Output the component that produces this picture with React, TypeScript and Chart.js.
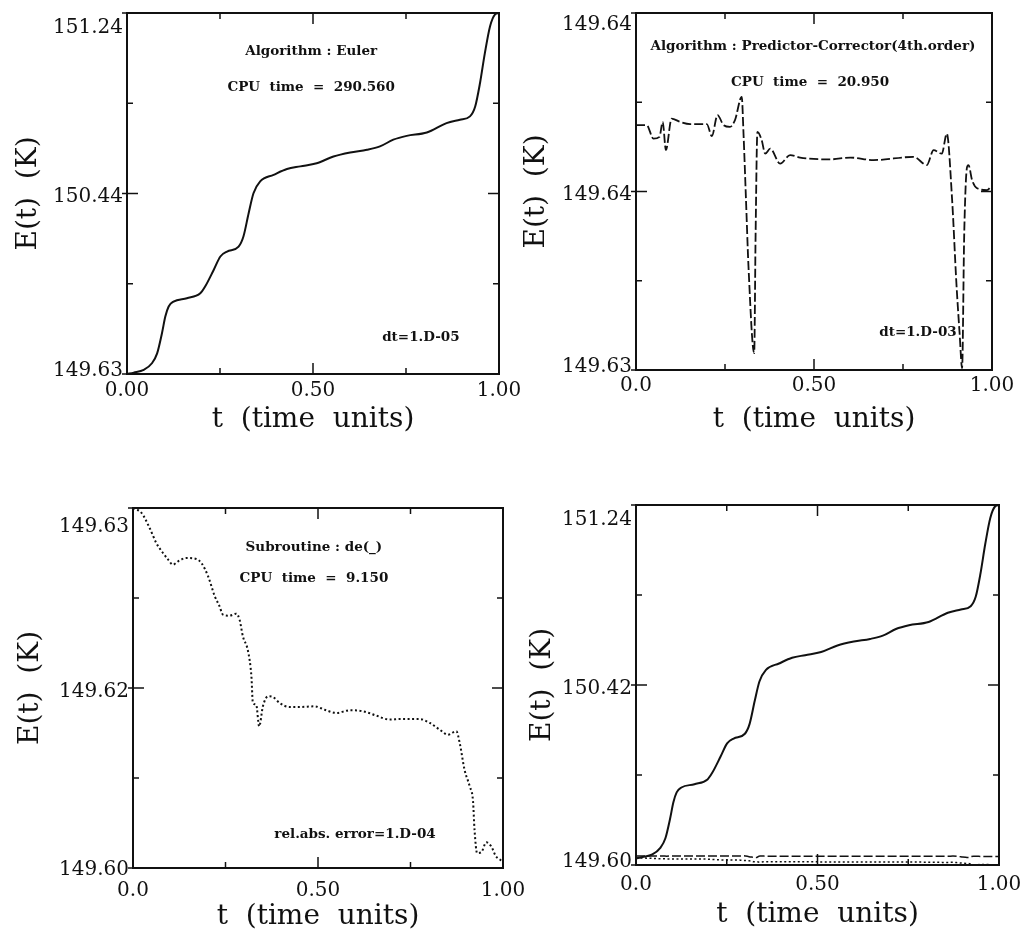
import React, { useEffect, useRef } from 'react';
import { Chart, registerables } from 'chart.js';

Chart.register(...registerables);

// ---------------- data ----------------
const eulerT = [0, 0.018, 0.045, 0.067, 0.081, 0.094, 0.103, 0.112, 0.125, 0.161, 0.197, 0.210, 0.233, 0.251, 0.269, 0.300, 0.313, 0.327, 0.340, 0.358, 0.394, 0.430, 0.466, 0.510, 0.555, 0.600, 0.645, 0.680, 0.716, 0.752, 0.806, 0.859, 0.895, 0.922, 0.936, 0.949, 0.962, 0.976, 0.989, 1.0];
const eulerE = [149.630, 149.636, 149.648, 149.678, 149.722, 149.812, 149.886, 149.931, 149.953, 149.968, 149.990, 150.020, 150.094, 150.154, 150.176, 150.198, 150.243, 150.347, 150.436, 150.489, 150.518, 150.544, 150.556, 150.570, 150.600, 150.618, 150.630, 150.645, 150.675, 150.692, 150.707, 150.749, 150.764, 150.779, 150.823, 150.928, 151.061, 151.181, 151.233, 151.240];

const pcT = [0, 0.030, 0.049, 0.066, 0.075, 0.084, 0.100, 0.124, 0.152, 0.199, 0.213, 0.229, 0.246, 0.264, 0.278, 0.297, 0.302, 0.309, 0.316, 0.332, 0.336, 0.341, 0.353, 0.363, 0.377, 0.405, 0.433, 0.461, 0.545, 0.602, 0.667, 0.780, 0.817, 0.836, 0.859, 0.873, 0.888, 0.900, 0.909, 0.916, 0.922, 0.930, 0.934, 0.944, 0.958, 0.986, 1.0];
const pcE = [149.64086, 149.64086, 149.64048, 149.64053, 149.64095, 149.64016, 149.64104, 149.64095, 149.64089, 149.64089, 149.64055, 149.64114, 149.64086, 149.64081, 149.64100, 149.64165, 149.64062, 149.63876, 149.63689, 149.63447, 149.63783, 149.64067, 149.64044, 149.64006, 149.64020, 149.63978, 149.64002, 149.63995, 149.63990, 149.63995, 149.63988, 149.63997, 149.63974, 149.64016, 149.64006, 149.64062, 149.63876, 149.63643, 149.63503, 149.63405, 149.63783, 149.63969, 149.63974, 149.63932, 149.63909, 149.63904, 149.63918];

const deT = [0, 0.023, 0.045, 0.063, 0.081, 0.095, 0.108, 0.122, 0.144, 0.171, 0.185, 0.203, 0.221, 0.234, 0.243, 0.261, 0.279, 0.288, 0.297, 0.311, 0.320, 0.324, 0.333, 0.341, 0.351, 0.365, 0.378, 0.396, 0.423, 0.450, 0.491, 0.518, 0.550, 0.586, 0.622, 0.658, 0.694, 0.721, 0.775, 0.802, 0.829, 0.851, 0.874, 0.883, 0.896, 0.910, 0.919, 0.923, 0.930, 0.941, 0.955, 0.968, 0.981, 1.0];
const deE = [149.63200, 149.63156, 149.63022, 149.62889, 149.62800, 149.62741, 149.62696, 149.62726, 149.62756, 149.62747, 149.62711, 149.62593, 149.62415, 149.62326, 149.62252, 149.62243, 149.62261, 149.62207, 149.62059, 149.61926, 149.61704, 149.61467, 149.61452, 149.61259, 149.61437, 149.61526, 149.61520, 149.61467, 149.61431, 149.61431, 149.61437, 149.61407, 149.61378, 149.61402, 149.61393, 149.61354, 149.61319, 149.61324, 149.61324, 149.61289, 149.61230, 149.61185, 149.61215, 149.61111, 149.60874, 149.60726, 149.60593, 149.60341, 149.60133, 149.60139, 149.60228, 149.60193, 149.60104, 149.60059];

const xTickValues = [0, 0.25, 0.5, 0.75, 1];
const xTickLabelsA = ['0.00', '', '0.50', '', '1.00'];
const xTickLabelsB = ['0.0', '', '0.50', '', '1.00'];

const yTickLabelsEuler = ['149.63', '150.44', '151.24'];
const yTickLabelsPC = ['149.63', '149.64', '149.64'];
const yTickLabelsDE = ['149.60', '149.62', '149.63'];
const yTickLabelsAll = ['149.60', '150.42', '151.24'];

const yRangeEuler = [149.63, 151.24];
const yRangePC = [149.634, 149.644];
const yRangeDE = [149.6, 149.632];
const yRangeAll = [149.6, 151.24];

const xTitle = 't  (time  units)';
const yTitle = 'E(t)  (K)';

const notesEuler = ['Algorithm : Euler', 'CPU  time  =  290.560', 'dt=1.D-05'];
const notesPC = ['Algorithm : Predictor-Corrector(4th.order)', 'CPU  time  =  20.950', 'dt=1.D-03'];
const notesDE = ['Subroutine : de(_)', 'CPU  time  =  9.150', 'rel.abs. error=1.D-04'];

// ---------------- styling ----------------
const SERIF = '"DejaVu Serif", serif';
const NOTE_FONT = 'bold 13.5px "DejaVu Serif", serif';
const INK = '#111';

const toPts = (t: number[], e: number[]) => t.map((x, i) => ({ x, y: e[i] }));

const decorPlugin = {
  id: 'decor',
  afterDatasetsDraw(chart: any, _args: any, opts: any) {
    const { ctx, chartArea: a } = chart;
    const xs = chart.scales.x;
    const ys = chart.scales.y;
    const w = a.right - a.left;
    const h = a.bottom - a.top;
    ctx.save();
    ctx.strokeStyle = INK;
    ctx.lineWidth = 2;
    ctx.strokeRect(a.left, a.top, w, h);
    ctx.lineWidth = 1.5;
    const seg = (x1: number, y1: number, x2: number, y2: number) => {
      ctx.beginPath();
      ctx.moveTo(x1, y1);
      ctx.lineTo(x2, y2);
      ctx.stroke();
    };
    xs.ticks.forEach((tk: any, i: number) => {
      const px = xs.getPixelForValue(tk.value);
      const len = i % 2 === 0 ? 11 : 6;
      seg(px, a.bottom, px, a.bottom - len);
      seg(px, a.top, px, a.top + len);
    });
    ys.ticks.forEach((tk: any, i: number) => {
      const py = ys.getPixelForValue(tk.value);
      const major = i % 2 === 0;
      const len = major ? 11 : 6;
      seg(a.left - (major ? 5 : 0), py, a.left + len, py);
      seg(a.right - len, py, a.right, py);
    });
    // y tick labels
    ctx.fillStyle = INK;
    ctx.font = `20px ${SERIF}`;
    ctx.textAlign = 'right';
    ctx.textBaseline = 'alphabetic';
    const labs: string[] = opts.yLabels;
    labs.forEach((lab, j) => {
      const tk = ys.ticks[j * 2];
      const py = ys.getPixelForValue(tk.value);
      let base;
      if (j === 0) base = py + opts.bottomShift;
      else if (j === labs.length - 1) base = py + opts.topShift + 14.6;
      else base = py + 1.5 + 7.3;
      ctx.fillText(lab, a.left - 4, base);
    });
    // annotations
    ctx.font = NOTE_FONT;
    ctx.textAlign = 'center';
    ctx.textBaseline = 'middle';
    (opts.notes || []).forEach((n: any) => {
      ctx.fillText(n.text, a.left + n.fx * w, a.top + n.fy * h);
    });
    ctx.restore();
  },
};

type PanelCfg = {
  box: { left: number; top: number; width: number; height: number };
  padTop: number;
  padRight: number;
  yW: number;
  xH: number;
  xPad: number;
  xTitlePad: number;
  yTitlePad: number;
  yRange: number[];
  yLabels: string[];
  xLabels: string[];
  topShift: number;
  bottomShift: number;
  notes: { text: string; fx: number; fy: number }[];
  datasets: any[];
};

const solid = (data: any[]) => ({ data, borderColor: INK, borderWidth: 2, pointRadius: 0, cubicInterpolationMode: 'monotone', fill: false });
const dashed = (data: any[], wdt = 1.8) => ({ data, borderColor: INK, borderWidth: wdt, borderDash: [9, 3], pointRadius: 0, cubicInterpolationMode: 'monotone', fill: false });
const dotted = (data: any[], wdt = 2) => ({ data, borderColor: INK, borderWidth: wdt, borderDash: [2, 2.5], pointRadius: 0, cubicInterpolationMode: 'monotone', fill: false });

const panels: PanelCfg[] = [
  {
    box: { left: 0, top: 0, width: 540, height: 450 },
    padTop: 13, padRight: 41, yW: 127, xH: 76, xPad: 5, xTitlePad: 13, yTitlePad: 12,
    yRange: yRangeEuler, yLabels: yTickLabelsEuler, xLabels: xTickLabelsA,
    topShift: 5, bottomShift: 2,
    notes: [
      { text: notesEuler[0], fx: 0.495, fy: 0.108 },
      { text: notesEuler[1], fx: 0.495, fy: 0.205 },
      { text: notesEuler[2], fx: 0.79, fy: 0.9 },
    ],
    datasets: [solid(toPts(eulerT, eulerE))],
  },
  {
    box: { left: 517, top: 0, width: 518, height: 450 },
    padTop: 13, padRight: 43, yW: 119, xH: 80, xPad: 4, xTitlePad: 13, yTitlePad: 3,
    yRange: yRangePC, yLabels: yTickLabelsPC, xLabels: xTickLabelsB,
    topShift: 2, bottomShift: 2,
    notes: [
      { text: notesPC[0], fx: 0.497, fy: 0.095 },
      { text: notesPC[1], fx: 0.489, fy: 0.196 },
      { text: notesPC[2], fx: 0.792, fy: 0.896 },
    ],
    datasets: [dashed(toPts(pcT, pcE))],
  },
  {
    box: { left: 0, top: 470, width: 540, height: 465 },
    padTop: 38, padRight: 37, yW: 133, xH: 67, xPad: 11, xTitlePad: 1, yTitlePad: 14,
    yRange: yRangeDE, yLabels: yTickLabelsDE, xLabels: xTickLabelsB,
    topShift: 9, bottomShift: 7,
    notes: [
      { text: notesDE[0], fx: 0.489, fy: 0.111 },
      { text: notesDE[1], fx: 0.489, fy: 0.197 },
      { text: notesDE[2], fx: 0.6, fy: 0.908 },
    ],
    datasets: [dotted(toPts(deT, deE))],
  },
  {
    box: { left: 517, top: 470, width: 518, height: 465 },
    padTop: 35, padRight: 36, yW: 119, xH: 70, xPad: 8, xTitlePad: 3, yTitlePad: 9,
    yRange: yRangeAll, yLabels: yTickLabelsAll, xLabels: xTickLabelsB,
    topShift: 5, bottomShift: 2,
    notes: [],
    datasets: [solid(toPts(eulerT, eulerE)), dashed(toPts(pcT, pcE), 1.5), dotted(toPts(deT, deE), 1.5)],
  },
];

function Panel({ cfg }: { cfg: PanelCfg }) {
  const ref = useRef<HTMLCanvasElement>(null);
  useEffect(() => {
    const [ymin, ymax] = cfg.yRange;
    const chart = new Chart(ref.current as HTMLCanvasElement, {
      type: 'line',
      data: { datasets: cfg.datasets },
      plugins: [decorPlugin as any],
      options: {
        animation: false,
        responsive: false,
        devicePixelRatio: 1,
        layout: { padding: { left: 0, top: cfg.padTop, right: cfg.padRight, bottom: 0 } },
        plugins: {
          legend: { display: false },
          tooltip: { enabled: false },
          decor: { yLabels: cfg.yLabels, notes: cfg.notes, topShift: cfg.topShift, bottomShift: cfg.bottomShift },
        } as any,
        scales: {
          x: {
            type: 'linear',
            min: 0,
            max: 1,
            afterBuildTicks: (s: any) => {
              s.ticks = xTickValues.map((v) => ({ value: v }));
            },
            afterFit: (s: any) => {
              s.height = cfg.xH;
            },
            grid: { display: false, drawTicks: false },
            border: { display: false },
            ticks: {
              autoSkip: false,
              maxRotation: 0,
              padding: cfg.xPad,
              color: INK,
              font: { family: SERIF, size: 20 },
              callback: (_v: any, i: number) => cfg.xLabels[i],
            },
            title: {
              display: true,
              text: xTitle,
              color: INK,
              font: { family: SERIF, size: 28 },
              padding: { top: 0, bottom: cfg.xTitlePad },
            },
          },
          y: {
            type: 'linear',
            min: ymin,
            max: ymax,
            afterBuildTicks: (s: any) => {
              s.ticks = [0, 1, 2, 3, 4].map((i) => ({ value: ymin + ((ymax - ymin) * i) / 4 }));
            },
            afterFit: (s: any) => {
              s.width = cfg.yW;
            },
            grid: { display: false, drawTicks: false },
            border: { display: false },
            ticks: { display: false },
            title: {
              display: true,
              text: yTitle,
              color: INK,
              font: { family: SERIF, size: 28 },
              padding: { top: cfg.yTitlePad, bottom: 0 },
            },
          },
        },
      } as any,
    });
    return () => chart.destroy();
  }, []);
  const b = cfg.box;
  return (
    <div style={{ position: 'absolute', left: b.left, top: b.top, width: b.width, height: b.height }}>
      <canvas ref={ref} width={b.width} height={b.height} style={{ width: b.width, height: b.height, display: 'block' }} />
    </div>
  );
}

export default function App() {
  return (
    <div style={{ position: 'absolute', left: 0, top: 0, width: 1035, height: 935, background: '#fff', overflow: 'hidden' }}>
      {panels.map((p, i) => (
        <Panel key={i} cfg={p} />
      ))}
    </div>
  );
}
